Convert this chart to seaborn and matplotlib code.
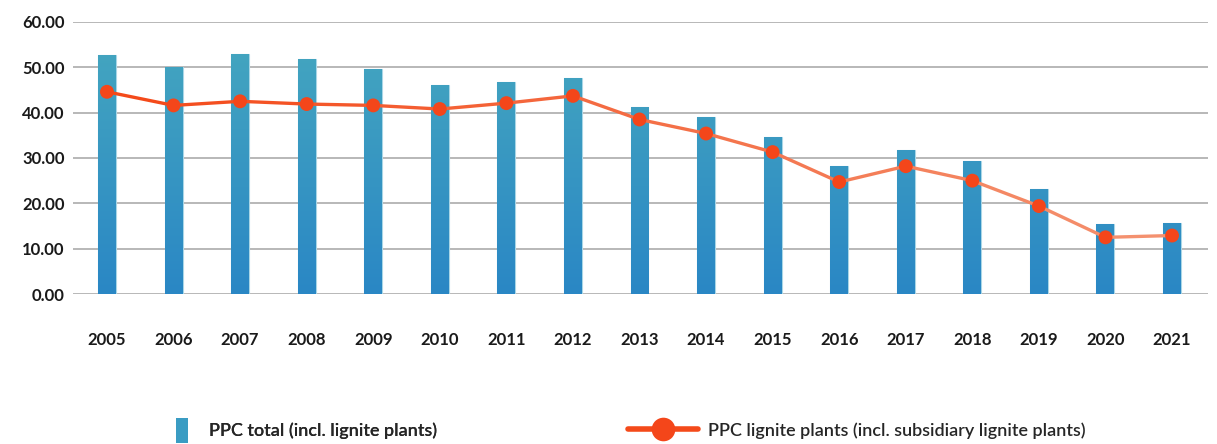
import numpy as np
import pandas as pd
import seaborn as sns
import matplotlib.pyplot as plt
from matplotlib.collections import LineCollection
from matplotlib.colors import LinearSegmentedColormap
from matplotlib.lines import Line2D
from matplotlib.patches import Patch

years = [str(y) for y in range(2005, 2022)]
ppc_total = [52.8, 50.1, 52.9, 51.8, 49.6, 46.0, 46.7, 47.6, 41.3, 39.1,
             34.6, 28.3, 31.7, 29.4, 23.2, 15.4, 15.6]
ppc_lignite = [44.6, 41.6, 42.5, 41.9, 41.6, 40.8, 42.1, 43.7, 38.5, 35.4,
               31.3, 24.7, 28.2, 25.0, 19.4, 12.5, 12.9]
yticks = [0, 10, 20, 30, 40, 50, 60]

bar_top, bar_bottom = "#46a8bf", "#2a87c5"
line_start, line_end = "#f44a1a", "#f4916f"
marker_color = "#f4461a"

sns.set_theme(style="white")
plt.rcParams['font.family'] = ['Lato', 'DejaVu Sans']

df = pd.DataFrame({"year": years, "total": ppc_total, "lignite": ppc_lignite})

fig = plt.figure(figsize=(12.17, 4.44), dpi=100)
ax = fig.add_axes([0.060, 0.3378, 0.9326, 0.6127])

sns.barplot(data=df, x="year", y="total", color=bar_bottom, width=0.27,
            edgecolor="#a9d6e6", linewidth=0.8, ax=ax, zorder=2)

# vertical gradient fill for bars (same colour scale for every bar)
grad = np.linspace(0, 1, 256).reshape(-1, 1)
cmap_bar = LinearSegmentedColormap.from_list("bar", [bar_bottom, bar_top])
for p in ax.patches:
    x0, w = p.get_x(), p.get_width()
    p.set_facecolor("none")
    im = ax.imshow(grad, extent=[x0, x0 + w, 0, 60], origin="lower",
                   cmap=cmap_bar, aspect="auto", zorder=2.1)
    im.set_clip_path(p)

# gradient line for lignite series
xs = np.arange(len(years))
pts = np.column_stack([xs, ppc_lignite]).reshape(-1, 1, 2)
segs = np.concatenate([pts[:-1], pts[1:]], axis=1)
cmap_line = LinearSegmentedColormap.from_list("line", [line_start, line_end])
lc = LineCollection(segs, colors=cmap_line(np.linspace(0, 1, len(segs))),
                    linewidth=2.4, zorder=3, capstyle="round")
ax.add_collection(lc)
sns.scatterplot(x=xs, y=ppc_lignite, color=marker_color, s=100,
                edgecolor="none", ax=ax, zorder=4)

ax.set_xlim(-0.51, 16.54)
ax.set_ylim(0, 60)
ax.set_yticks(yticks)
ax.set_yticklabels([f"{v:.2f}" for v in yticks])
ax.yaxis.grid(True, color="#b8b8b8", linewidth=1.4)
ax.set_axisbelow(True)
for s in ax.spines.values():
    s.set_visible(False)
ax.set_xlabel("")
ax.set_ylabel("")
ax.tick_params(axis="both", length=0, labelsize=12, colors="#1a1a1a")
ax.tick_params(axis="x", pad=27)
ax.tick_params(axis="y", pad=6)
for lab in ax.get_xticklabels() + ax.get_yticklabels():
    lab.set_fontweight("bold")

legend_font = {"size": 13, "weight": "semibold"}
h1 = Patch(facecolor="#3a9cc3", edgecolor="none")
leg1 = fig.legend([h1], ["PPC total (incl. lignite plants)"], loc="center left",
                  bbox_to_anchor=(0.1446, 0.031), frameon=False, handlelength=0.65,
                  handleheight=1.75, handletextpad=1.2, borderpad=0, borderaxespad=0,
                  prop=legend_font)
h2 = Line2D([0], [0], color=line_start, linewidth=4, marker="o",
            markersize=17, markerfacecolor=marker_color, markeredgewidth=0)
leg2 = fig.legend([h2], ["PPC lignite plants (incl. subsidiary lignite plants)"],
                  loc="center left", bbox_to_anchor=(0.516, 0.031), frameon=False,
                  handlelength=3.9, handletextpad=0.55, borderpad=0, borderaxespad=0,
                  prop=legend_font)
fig.add_artist(leg1)

fig.savefig("out.png", dpi=100)
